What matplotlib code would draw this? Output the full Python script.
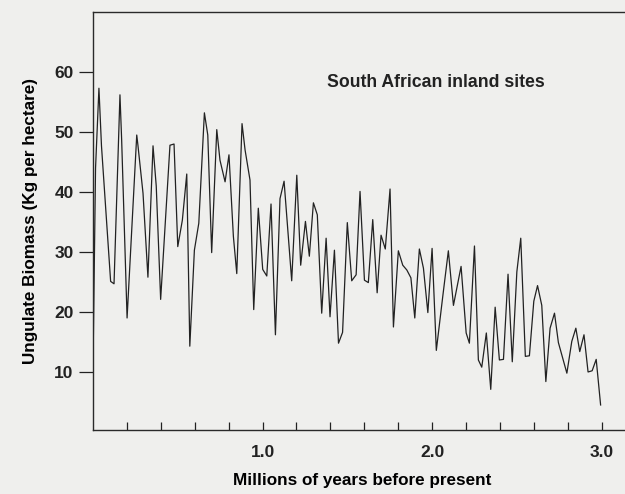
import matplotlib.pyplot as plt
import numpy as np

# Ungulate biomass through time
myr = [0.002, 0.015, 0.035, 0.050, 0.104, 0.124, 0.159, 0.169, 0.201, 0.258,
       0.265, 0.295, 0.324, 0.354, 0.373, 0.399, 0.454, 0.478, 0.500, 0.527,
       0.553, 0.571, 0.598, 0.624, 0.657, 0.677, 0.700, 0.730, 0.749, 0.779,
       0.802, 0.828, 0.848, 0.879, 0.897, 0.926, 0.948, 0.975, 1.001, 1.025,
       1.050, 1.076, 1.103, 1.127, 1.172, 1.202, 1.225, 1.253, 1.276, 1.300,
       1.323, 1.349, 1.375, 1.398, 1.424, 1.448, 1.472, 1.500, 1.526, 1.552,
       1.575, 1.601, 1.624, 1.650, 1.676, 1.699, 1.724, 1.752, 1.772, 1.801,
       1.827, 1.851, 1.875, 1.898, 1.925, 1.949, 1.975, 2.000, 2.025, 2.063,
       2.096, 2.126, 2.171, 2.201, 2.220, 2.250, 2.273, 2.293, 2.320, 2.346,
       2.372, 2.397, 2.421, 2.448, 2.473, 2.500, 2.523, 2.550, 2.574, 2.600,
       2.622, 2.647, 2.671, 2.696, 2.722, 2.745, 2.795, 2.824, 2.848, 2.871,
       2.896, 2.920, 2.944, 2.968, 2.994]
biomass = [15.3, 44.0, 57.3, 47.7, 25.1, 24.7, 56.2, 48.7, 19.0, 49.5,
           47.8, 39.8, 25.8, 47.7, 41.0, 22.1, 47.8, 48.0, 30.9, 35.3,
           43.0, 14.3, 30.3, 34.8, 53.2, 49.5, 29.9, 50.4, 45.3, 41.7,
           46.2, 32.6, 26.4, 51.4, 47.0, 42.0, 20.4, 37.3, 27.1, 26.0,
           38.0, 16.2, 38.9, 41.8, 25.2, 42.8, 27.8, 35.1, 29.3, 38.2,
           36.2, 19.8, 32.3, 19.2, 30.3, 14.8, 16.6, 34.9, 25.2, 26.2,
           40.1, 25.3, 24.9, 35.4, 23.2, 32.8, 30.5, 40.5, 17.5, 30.2,
           27.8, 27.0, 25.7, 19.0, 30.5, 27.3, 19.9, 30.6, 13.6, 22.6,
           30.2, 21.1, 27.6, 16.5, 14.8, 31.0, 12.0, 10.8, 16.5, 7.1,
           20.8, 12.0, 12.1, 26.3, 11.7, 26.7, 32.3, 12.6, 12.7, 21.8,
           24.4, 21.1, 8.4, 17.3, 19.8, 14.9, 9.8, 15.1, 17.3, 13.4,
           16.2, 10.0, 10.2, 12.1, 4.5]

ytick_vals = [10, 20, 30, 40, 50, 60]
xlabel_vals = [1.0, 2.0, 3.0]

plt.rcParams['font.family'] = ['Liberation Sans', 'DejaVu Sans']

fig = plt.figure(figsize=(6.25, 4.94), dpi=100)
fig.patch.set_facecolor('#efefed')
ax = fig.add_axes([0.1488, 0.1296, 0.861, 0.846])
ax.set_facecolor('#efefed')

ax.plot(myr, biomass, color='#222222', lw=0.9)

ax.set_xlim(0, 3.174)
ax.set_ylim(0.33, 70)

# y ticks point outward, x ticks inward every 0.2
ax.set_yticks(ytick_vals)
ax.set_yticklabels([str(v) for v in ytick_vals], fontsize=12.5, fontweight='bold')
ax.tick_params(axis='y', direction='out', length=10, width=0.9, pad=4, colors='#222222')

xt = np.arange(0.2, 3.01, 0.2)
ax.set_xticks(xt)
ax.set_xticklabels(['%.1f' % v if round(v, 1) in xlabel_vals else '' for v in xt],
                   fontsize=12.5, fontweight='bold')
ax.tick_params(axis='x', direction='in', length=6, width=0.9, pad=11, colors='#222222')

for s in ax.spines.values():
    s.set_color('#2a2a2a')
    s.set_linewidth(1.0)

ax.set_xlabel('Millions of years before present', fontsize=12.3, fontweight='bold', labelpad=9)
ax.set_ylabel('Ungulate Biomass (Kg per hectare)', fontsize=12.3, fontweight='bold', labelpad=12)

ax.text(2.02, 58.3, 'South African inland sites', fontsize=12.7, fontweight='bold',
        ha='center', va='center', color='#222222')

fig.savefig('out.png', dpi=100, facecolor=fig.get_facecolor())
